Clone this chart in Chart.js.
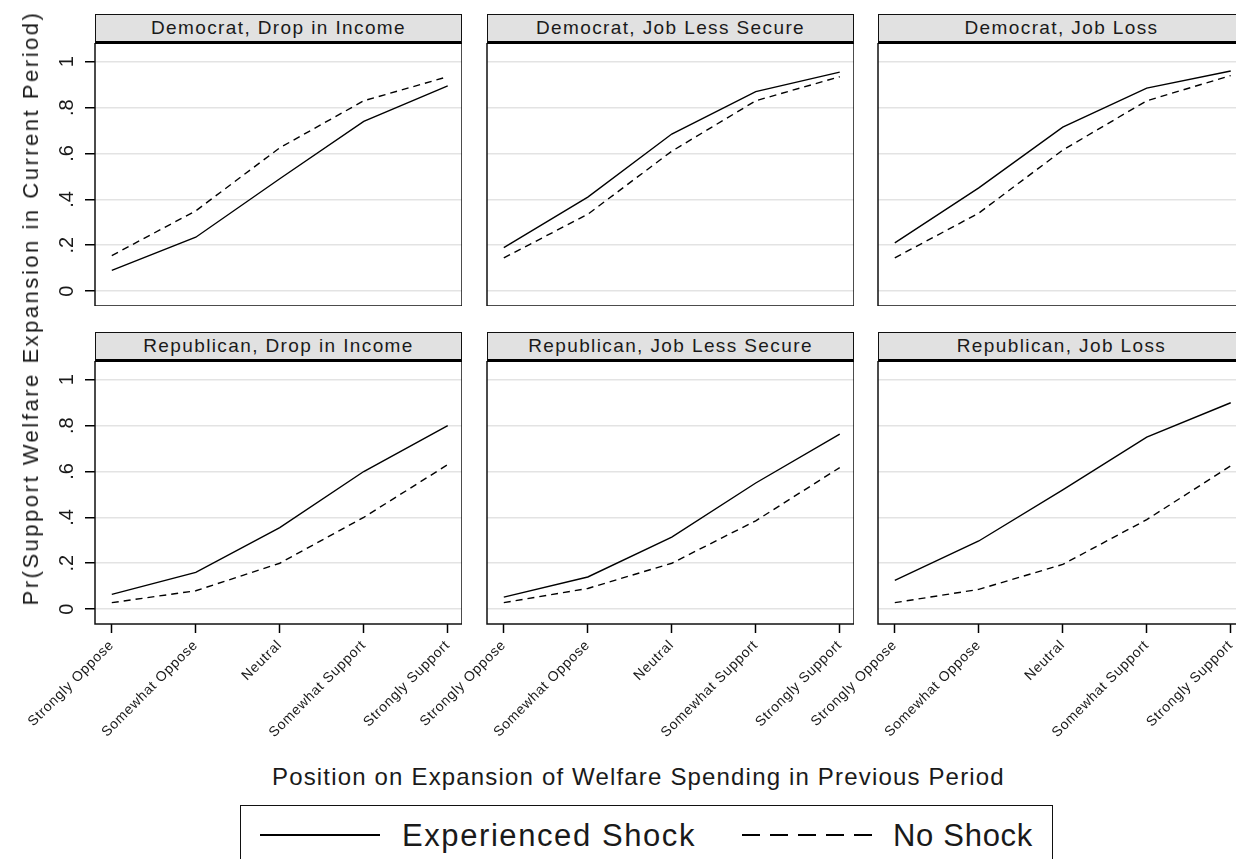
<!DOCTYPE html>
<html>
<head>
<meta charset="utf-8">
<title>Pr(Support Welfare Expansion)</title>
<script src="https://cdn.jsdelivr.net/npm/chart.js@4.4.1/dist/chart.umd.min.js"></script>
<style>
  html, body { margin: 0; padding: 0; background: #fff; }
  body {
    width: 1236px; height: 859px; position: relative; overflow: hidden;
    font-family: "Liberation Sans", Arial, sans-serif; color: #1a1a1a;
  }
  .panel { position: absolute; }
  .strip {
    position: absolute; box-sizing: border-box; background: #e1e1e1;
    border: 1.5px solid #111; border-bottom: 3px solid #000;
    text-align: center; white-space: nowrap; font-size: 19px; line-height: 25px;
  }
  .txt { position: absolute; white-space: nowrap; line-height: 1; }
  #legend { position: absolute; box-sizing: border-box; border: 1.5px solid #111; background: #fff; }
  .key { position: absolute; height: 2px; }
</style>
</head>
<body>
<script>
/* ============================
   DATA
============================ */

const categories = ["Strongly Oppose", "Somewhat Oppose", "Neutral", "Somewhat Support", "Strongly Support"];
const yTicks = [0, 0.2, 0.4, 0.6, 0.8, 1];
const yTickLabels = ["0", ".2", ".4", ".6", ".8", "1"];

const panelTitles = [
  "Democrat, Drop in Income", "Democrat, Job Less Secure", "Democrat, Job Loss",
  "Republican, Drop in Income", "Republican, Job Less Secure", "Republican, Job Loss",
];

// Experienced Shock (solid)
const demIncomeShock = [0.09, 0.235, 0.49, 0.74, 0.895];
const demSecureShock = [0.19, 0.41, 0.685, 0.87, 0.955];
const demLossShock = [0.21, 0.45, 0.715, 0.885, 0.96];
const repIncomeShock = [0.064, 0.16, 0.355, 0.60, 0.80];
const repSecureShock = [0.052, 0.14, 0.314, 0.55, 0.763];
const repLossShock = [0.125, 0.297, 0.52, 0.75, 0.90];

// No Shock (dashed)
const demIncomeNo = [0.155, 0.35, 0.625, 0.83, 0.935];
const demSecureNo = [0.145, 0.335, 0.61, 0.83, 0.935];
const demLossNo = [0.145, 0.34, 0.615, 0.83, 0.94];
const repIncomeNo = [0.028, 0.08, 0.20, 0.40, 0.63];
const repSecureNo = [0.028, 0.09, 0.20, 0.385, 0.617];
const repLossNo = [0.028, 0.086, 0.195, 0.39, 0.625];

const shockSeries = [demIncomeShock, demSecureShock, demLossShock, repIncomeShock, repSecureShock, repLossShock];
const noShockSeries = [demIncomeNo, demSecureNo, demLossNo, repIncomeNo, repSecureNo, repLossNo];

/* ============================
   LAYOUT
============================ */

const FONT = '"Liberation Sans", Arial, sans-serif';
const COL_LEFT = [95, 487, 878];
const ROW_TOP = [43, 361];
const PLOT_W = 367;
const PLOT_H = 263;
const STRIP_H = 29;

Chart.defaults.font.family = FONT;
Chart.defaults.animation = false;

// measure text so Stata's wide letter spacing can be mimicked
const measureCtx = document.createElement("canvas").getContext("2d");
function naturalWidth(text, size) {
  measureCtx.font = `${size}px ${FONT}`;
  return measureCtx.measureText(text).width;
}

function addText(text, size, left, top, fitWidth) {
  const el = document.createElement("div");
  el.className = "txt";
  el.textContent = text;
  el.style.fontSize = size + "px";
  el.style.left = left + "px";
  el.style.top = top + "px";
  if (fitWidth) {
    const extra = (fitWidth - naturalWidth(text, size)) / text.length;
    el.style.letterSpacing = extra.toFixed(2) + "px";
  }
  document.body.appendChild(el);
  return el;
}

// box round each plot area; rotated y tick labels (Stata style) on the left column
const framePlugin = {
  id: "frame",
  beforeDraw(chart) {
    chart.ctx.letterSpacing = "0.7px";
  },
  afterDraw(chart, args, opts) {
    const a = chart.chartArea;
    const ctx = chart.ctx;
    ctx.save();
    ctx.strokeStyle = "#111";
    ctx.lineWidth = 1.5;
    ctx.strokeRect(a.left, a.top, a.right - a.left, a.bottom - a.top);

    if (opts.yLabels) {
      const y = chart.scales.y;
      ctx.fillStyle = "#1a1a1a";
      ctx.font = `20px ${FONT}`;
      ctx.letterSpacing = "0px";
      ctx.textAlign = "center";
      ctx.textBaseline = "middle";
      yTicks.forEach((v, i) => {
        ctx.save();
        ctx.translate(a.left - 28, y.getPixelForValue(v));
        ctx.rotate(-Math.PI / 2);
        ctx.fillText(yTickLabels[i], 0, 0);
        ctx.restore();
      });
    }
    ctx.restore();
  },
};

function toPoints(values) {
  return values.map((v, i) => ({ x: i, y: v }));
}

/* ============================
   PANELS
============================ */

function makePanel(idx) {
  const r = Math.floor(idx / 3);
  const c = idx % 3;
  const bottomRow = r === 1;
  const leftCol = c === 0;
  const yw = leftCol ? 95 : 100;
  const xh = bottomRow ? 116 : 0;

  const box = document.createElement("div");
  box.className = "panel";
  box.style.left = COL_LEFT[c] - yw + "px";
  box.style.top = ROW_TOP[r] + "px";
  box.style.width = PLOT_W + yw + "px";
  box.style.height = PLOT_H + xh + "px";
  const canvas = document.createElement("canvas");
  box.appendChild(canvas);
  document.body.appendChild(box);

  new Chart(canvas, {
    type: "line",
    data: {
      datasets: [
        {
          label: "Experienced Shock",
          data: toPoints(shockSeries[idx]),
          borderColor: "#000",
          borderWidth: 1.4,
          pointRadius: 0,
          tension: 0,
        },
        {
          label: "No Shock",
          data: toPoints(noShockSeries[idx]),
          borderColor: "#000",
          borderWidth: 1.4,
          borderDash: [7, 5],
          pointRadius: 0,
          tension: 0,
        },
      ],
    },
    options: {
      responsive: true,
      maintainAspectRatio: false,
      layout: { padding: 0 },
      plugins: {
        legend: { display: false },
        tooltip: { enabled: false },
        frame: { yLabels: leftCol },
      },
      scales: {
        x: {
          type: "linear",
          min: -0.2,
          max: 4.17,
          afterBuildTicks: (s) => { s.ticks = categories.map((_, i) => ({ value: i })); },
          afterFit: (s) => { s.height = xh; s.paddingLeft = 0; s.paddingRight = 0; },
          ticks: {
            display: bottomRow,
            autoSkip: false,
            minRotation: 45,
            maxRotation: 45,
            padding: 4,
            color: "#1a1a1a",
            font: { size: 14 },
            callback: (v) => categories[v],
          },
          grid: {
            display: bottomRow,
            drawOnChartArea: false,
            tickLength: 9,
            tickColor: "#000",
            tickWidth: 1.5,
          },
          border: { display: false },
        },
        y: {
          min: -0.065,
          max: 1.082,
          afterBuildTicks: (s) => { s.ticks = yTicks.map((v) => ({ value: v })); },
          afterFit: (s) => { s.width = yw; s.paddingTop = 0; s.paddingBottom = 0; },
          ticks: { display: false },
          grid: {
            color: "#e3e3e3",
            lineWidth: 1.5,
            drawTicks: leftCol,
            tickLength: 10,
            tickColor: "#000",
            tickWidth: 1.5,
          },
          border: { display: false },
        },
      },
    },
    plugins: [framePlugin],
  });

  // header strip
  const strip = document.createElement("div");
  strip.className = "strip";
  strip.style.left = COL_LEFT[c] + "px";
  strip.style.top = ROW_TOP[r] - STRIP_H + "px";
  strip.style.width = PLOT_W + "px";
  strip.style.height = STRIP_H + 1 + "px";
  strip.style.letterSpacing = stripSpacing.toFixed(2) + "px";
  strip.textContent = panelTitles[idx];
  document.body.appendChild(strip);
}

// "Democrat, Drop in Income" spans about 255px in the original
const stripSpacing = (255 - naturalWidth(panelTitles[0], 19)) / panelTitles[0].length;

for (let i = 0; i < 6; i++) makePanel(i);

/* ============================
   AXIS TITLES + LEGEND
============================ */

const yTitle = addText("Pr(Support Welfare Expansion in Current Period)", 22, 31, 308, 595);
yTitle.style.transform = "translate(-50%, -50%) rotate(-90deg)";

addText("Position on Expansion of Welfare Spending in Previous Period", 24, 272, 765, 733);

const legend = document.createElement("div");
legend.id = "legend";
legend.style.left = "240px";
legend.style.top = "805px";
legend.style.width = "813px";
legend.style.height = "80px";
document.body.appendChild(legend);

const solidKey = document.createElement("div");
solidKey.className = "key";
solidKey.style.cssText += "left:260px;top:834px;width:120px;background:#000;";
document.body.appendChild(solidKey);

const dashKey = document.createElement("div");
dashKey.className = "key";
dashKey.style.cssText +=
  "left:742px;top:834px;width:138px;background:repeating-linear-gradient(to right,#000 0 18px,transparent 18px 28px);";
document.body.appendChild(dashKey);

addText("Experienced Shock", 31, 402, 820, 294);
addText("No Shock", 31, 893, 820, 140);
</script>
</body>
</html>
